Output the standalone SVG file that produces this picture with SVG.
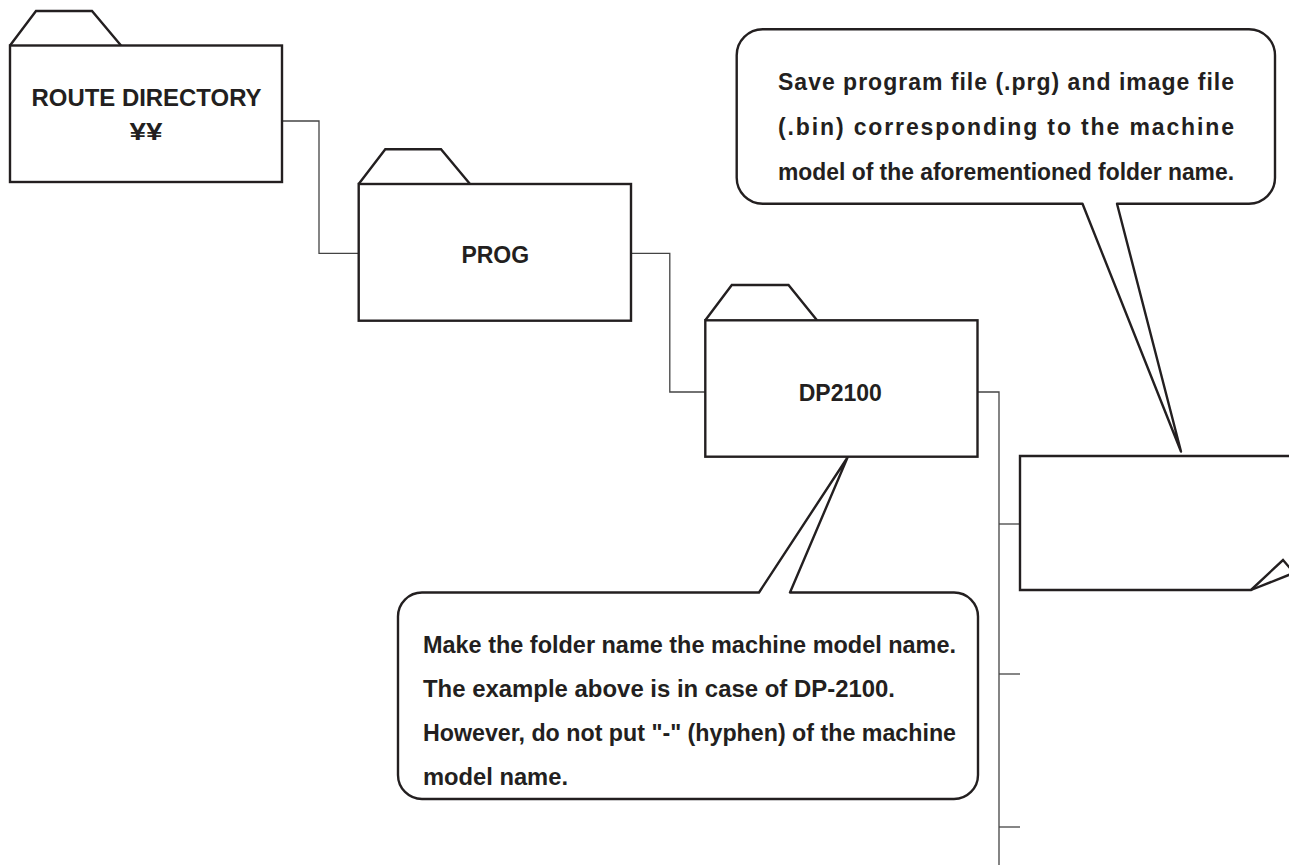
<svg xmlns="http://www.w3.org/2000/svg" width="1289" height="865" viewBox="0 0 1289 865">
<style>
.fold{fill:#fff;stroke:#231f20;stroke-width:2.4;stroke-linejoin:miter}
.conn{fill:none;stroke:#444;stroke-width:1.3}
.call{fill:#fff;stroke:#231f20;stroke-width:2.4;stroke-linejoin:round}
.lbl{font-family:"Liberation Sans",Arial,Helvetica,sans-serif;font-weight:bold;fill:#231f20}
.big{font-size:23px;text-anchor:middle}
.note{font-size:23px}
</style>
<rect width="1289" height="865" fill="#fff"/>
<g id="connectors">
<path class="conn" d="M282,121 H319 V253.3 H358.7"/>
<path class="conn" d="M631,253.3 H669.8 V392 H705.3"/>
<path class="conn" d="M977.5,392 H999 V865"/>
<path class="conn" d="M999,524 H1020"/>
<path class="conn" d="M999,674 H1020"/>
<path class="conn" d="M999,827 H1020"/>
</g>
<g id="route-directory">
<path class="fold" d="M10,45.5 L36,11 H92 L121,45.5"/>
<rect class="fold" x="10" y="45.5" width="272" height="136.5"/>
<text class="lbl big" x="146.5" y="106" textLength="230" lengthAdjust="spacingAndGlyphs">ROUTE DIRECTORY</text>
<text class="lbl big" x="146" y="140" textLength="33" lengthAdjust="spacingAndGlyphs">¥¥</text>
</g>
<g id="prog">
<path class="fold" d="M358.7,184 L385.3,149.3 H441 L470,184"/>
<rect class="fold" x="358.7" y="184" width="272.3" height="136.7"/>
<text class="lbl big" x="495.3" y="263">PROG</text>
</g>
<g id="dp2100">
<path class="fold" d="M705.3,320.3 L731.8,285 H788.5 L817,320.3"/>
<rect class="fold" x="705.3" y="320.3" width="272.2" height="136.4"/>
<text class="lbl big" x="840.3" y="401">DP2100</text>
</g>
<g id="file">
<path class="fold" d="M1295,456 H1020 V590 H1251 L1283,560 L1295,574"/>
<path class="fold" d="M1251,590 L1295,572.5"/>
</g>
<g id="note-top">
<path class="call" d="M762.7,29.3 H1249 A26,26 0 0 1 1275,55.3 V177.7 A26,26 0 0 1 1249,203.7 H1117 L1181,451.5 L1082.5,203.7 H762.7 A26,26 0 0 1 736.7,177.7 V55.3 A26,26 0 0 1 762.7,29.3 Z"/>
<text class="lbl note" x="778" y="90" textLength="456" lengthAdjust="spacing">Save program file (.prg) and image file</text>
<text class="lbl note" x="778" y="135" textLength="456" lengthAdjust="spacing">(.bin) corresponding to the machine</text>
<text class="lbl note" x="778" y="180" textLength="456" lengthAdjust="spacingAndGlyphs">model of the aforementioned folder name.</text>
</g>
<g id="note-bottom">
<path class="call" d="M422,592.5 H759 L847.5,457.5 L790,592.5 H954 A24,24 0 0 1 978,616.5 V775 A24,24 0 0 1 954,799 H422 A24,24 0 0 1 398,775 V616.5 A24,24 0 0 1 422,592.5 Z"/>
<text class="lbl note" x="423" y="653" textLength="533" lengthAdjust="spacingAndGlyphs">Make the folder name the machine model name.</text>
<text class="lbl note" x="423" y="697" textLength="472" lengthAdjust="spacingAndGlyphs">The example above is in case of DP-2100.</text>
<text class="lbl note" x="423" y="741" textLength="533" lengthAdjust="spacingAndGlyphs">However, do not put "-" (hyphen) of the machine</text>
<text class="lbl note" x="423" y="785" textLength="145" lengthAdjust="spacingAndGlyphs">model name.</text>
</g>
</svg>
